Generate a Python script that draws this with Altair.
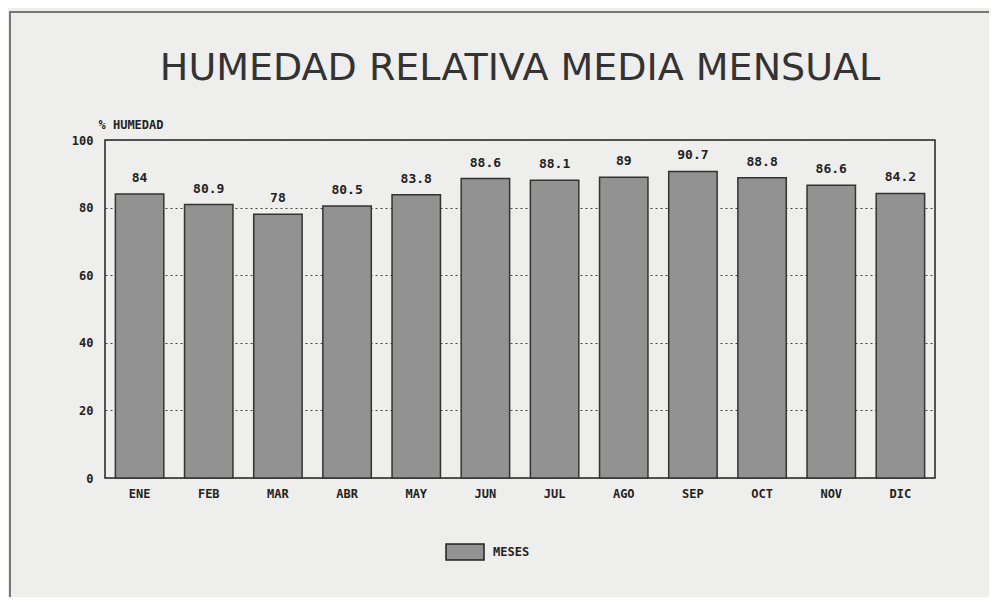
import altair as alt
import pandas as pd

meses = ["ENE", "FEB", "MAR", "ABR", "MAY", "JUN", "JUL", "AGO", "SEP", "OCT", "NOV", "DIC"]
humedad = [84, 80.9, 78, 80.5, 83.8, 88.6, 88.1, 89, 90.7, 88.8, 86.6, 84.2]
etiquetas = ["84", "80.9", "78", "80.5", "83.8", "88.6", "88.1", "89", "90.7", "88.8", "86.6", "84.2"]
serie = "MESES"
y_ticks = [0, 20, 40, 60, 80, 100]

df = pd.DataFrame({"mes": meses, "h": humedad, "lab": etiquetas, "serie": [serie] * len(meses)})

W, H = 830, 338
FONT = "DejaVu Sans Mono"

x = alt.X("mes:N", sort=meses, title=None,
          scale=alt.Scale(paddingInner=0.3, paddingOuter=0.15),
          axis=alt.Axis(labelAngle=0, ticks=False, domain=False, labelPadding=10,
                        labelFont=FONT, labelFontWeight="bold", labelFontSize=12,
                        labelColor="#222"))
y = alt.Y("h:Q", title="% HUMEDAD",
          scale=alt.Scale(domain=[0, 100], nice=False),
          axis=alt.Axis(values=y_ticks, ticks=False, domain=False, labelPadding=12,
                        labelFont=FONT, labelFontWeight="bold", labelFontSize=12,
                        labelColor="#222",
                        grid=True, gridDash=[2, 3], gridColor="#444", gridWidth=1,
                        titleAngle=0, titleX=-7, titleY=-9, titleAlign="left",
                        titleBaseline="bottom", titleFont=FONT, titleFontWeight="bold",
                        titleFontSize=12, titleColor="#222"))

frame = alt.Chart(df).mark_rect(fill=None, stroke="#777", strokeWidth=2).encode(
    x=alt.value(-95), x2=alt.value(W + 70), y=alt.value(-128), y2=alt.value(H + 140)
)

bars = alt.Chart(df).mark_bar(stroke="#333", strokeWidth=1.5).encode(
    x=x, y=y,
    color=alt.Color("serie:N", title=None,
                    scale=alt.Scale(range=["#929292"]),
                    legend=alt.Legend(orient="none", legendX=340, legendY=392,
                                      direction="horizontal",
                                      symbolType="M-1,-0.42H1V0.42H-1Z", symbolSize=1444,
                                      symbolStrokeColor="#222", symbolStrokeWidth=1.5,
                                      symbolOpacity=1,
                                      labelFont=FONT, labelFontWeight="bold",
                                      labelFontSize=12, labelColor="#222", labelOffset=8)),
)

text = alt.Chart(df).mark_text(dy=-9, baseline="bottom", font=FONT, fontWeight="bold",
                               fontSize=13, color="#222").encode(
    x=alt.X("mes:N", sort=meses), y="h:Q", text="lab:N"
)

chart = alt.layer(frame, bars, text).properties(
    width=W, height=H,
    autosize=alt.AutoSizeParams(type="none"),
    padding={"left": 97, "top": 132, "right": 54, "bottom": 119},
    background="#eeeeec",
    title=alt.Title("HUMEDAD RELATIVA MEDIA MENSUAL", frame="group", anchor="middle",
                    offset=-115, baseline="bottom", fontSize=38,
                    font="DejaVu Sans", fontWeight="normal", color="#333"),
).configure_view(stroke="#222", strokeWidth=1.5)

chart.save("out.html", embed_options={"renderer": "svg", "actions": False})
